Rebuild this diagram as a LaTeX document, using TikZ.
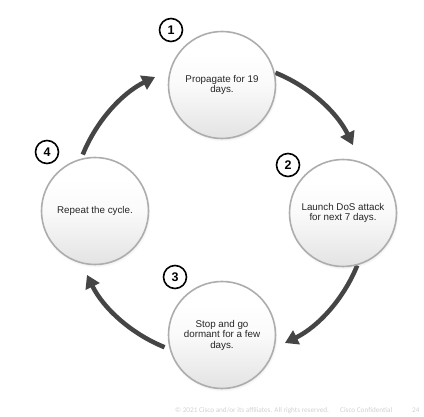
\documentclass[tikz,border=0pt]{standalone}
\usepackage{fontspec}
\setmainfont{Liberation Sans}
\newfontfamily\footfont{Carlito}
\usetikzlibrary{arrows.meta,shadows}
\pgfdeclareverticalshading{ballshade}{100bp}{color(0bp)=(black!27); color(22bp)=(black!12); color(50bp)=(black!2); color(65bp)=(white); color(100bp)=(white)}
\begin{document}
\begin{tikzpicture}[x=1pt,y=1pt,
  stage/.style={circle, minimum size=107pt, inner sep=0pt, draw=black!32, line width=1.6pt,
    shading=ballshade, align=center, font=\fontsize{9.8}{10.5}\selectfont, text=black!85,
    circular drop shadow={shadow xshift=0.5pt, shadow yshift=-1.5pt, opacity=0.3, shadow scale=1.03}},
  num/.style={circle, draw=black, line width=1.6pt, minimum size=23pt, inner sep=0pt, fill=white,
    font=\fontsize{12.5}{12.5}\selectfont\bfseries},
  cyc/.style={draw=black!73, line width=4.5pt, -{Triangle[length=13pt,width=15pt]}},
  foot/.style={anchor=base west, inner sep=0pt, text=black!18, font=\footfont\fontsize{7.2}{8}\selectfont}]
\useasboundingbox (0,0) rectangle (424,417);
\coordinate (ctr) at (220,207);
\draw[cyc] ([shift={(68:148)}]ctr) arc[start angle=68, end angle=26, radius=148];
\draw[cyc] ([shift={(-22:148)}]ctr) arc[start angle=-22, end angle=-64, radius=148];
\draw[cyc] ([shift={(-112:148)}]ctr) arc[start angle=-112, end angle=-154, radius=148];
\draw[cyc] ([shift={(158:148)}]ctr) arc[start angle=158, end angle=116, radius=148];
\node[stage] (s1) at (222,332) {Propagate for 19\\days.};
\node[stage] (s2) at (343,204) {Launch DoS attack\\for next 7 days.};
\node[stage] (s3) at (222,82) {Stop and go\\dormant for a few\\days.};
\node[stage] (s4) at (95,206) {Repeat the cycle.};
\node[num] (n1) at (171,387) {1};
\node[num] (n2) at (288,252) {2};
\node[num] (n3) at (175,140) {3};
\node[num] (n4) at (47,265) {4};
\node[foot] (f1) at (175,4) {© 2021 Cisco and/or its affiliates. All rights reserved.};
\node[foot] (f2) at (340,4) {Cisco Confidential};
\node[foot] (f3) at (412,4) {24};
\end{tikzpicture}
\end{document}
